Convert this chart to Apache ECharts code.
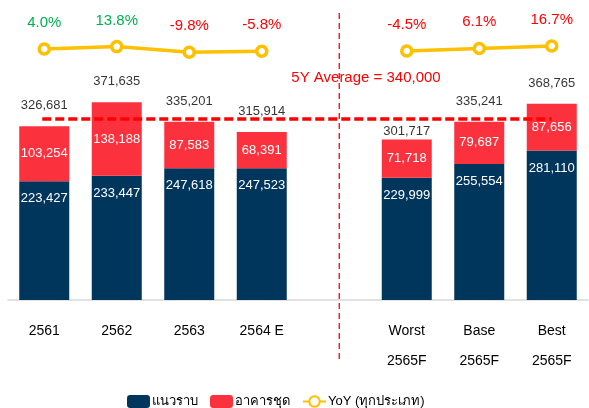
<!DOCTYPE html>
<html>
<head>
<meta charset="utf-8">
<script src="https://cdn.jsdelivr.net/npm/echarts@6/dist/echarts.min.js"></script>
<style>
  html, body { margin: 0; padding: 0; background: #fff; }
  #chart { width: 589px; height: 408px; }
</style>
</head>
<body>
<div id="chart"></div>
<script>
// 类目（第 5 个留空做分隔）
const categories = ['2561', '2562', '2563', '2564 E', '', 'Worst\n2565F', 'Base\n2565F', 'Best\n2565F'];
// แนวราบ
const lowRise = [223427, 233447, 247618, 247523, '-', 229999, 255554, 281110];
// อาคารชุด
const condo = [103254, 138188, 87583, 68391, '-', 71718, 79687, 87656];
// 合计
const totals = [326681, 371635, 335201, 315914, '-', 301717, 335241, 368765];
// YoY %
const yoy = [4.0, 13.8, -9.8, -5.8, '-', -4.5, 6.1, 16.7];
const yoyColors = ['#00B050', '#00B050', '#FF0000', '#FF0000', '#FF0000', '#FF0000', '#FF0000', '#FF0000'];
const avgValue = 340000;

const FONT = "'Liberation Sans', Arial, sans-serif";
const fmt = v => Number(v).toLocaleString('en-US');

const chart = echarts.init(document.getElementById('chart'));

// Worst 的合计标签贴近柱顶，避免压到均线
const totalData = totals.map((v, i) => i === 5 ? { value: v, label: { distance: 2 } } : v);
const yoyData = yoy.map((v, i) => v === '-' ? '-' : { value: v, label: { color: yoyColors[i] } });

const option = {
    animation: false,
    textStyle: { fontFamily: FONT },
    grid: { left: 8, right: 1, top: 34, bottom: 108 },
    legend: {
        data: ['แนวราบ', 'อาคารชุด', 'YoY (ทุกประเภท)'],
        left: 122,
        top: 390,
        itemWidth: 23,
        itemHeight: 13,
        itemGap: 12,
        textStyle: { fontSize: 13, color: '#000', padding: [0, 0, 0, -3] }
    },
    xAxis: {
        type: 'category',
        data: categories,
        axisLine: { lineStyle: { color: '#d9d9d9', width: 1.5 } },
        axisTick: { show: false },
        axisLabel: { color: '#000', fontSize: 14, margin: 16, lineHeight: 30, interval: 0 }
    },
    yAxis: [
        { type: 'value', min: 0, max: 500000, show: false, splitLine: { show: false } },
        { type: 'value', min: -1055, max: 67, show: false, splitLine: { show: false } }
    ],
    series: [
        {
            name: 'แนวราบ',
            type: 'bar',
            stack: 'total',
            barWidth: 50,
            data: lowRise,
            itemStyle: { color: '#00365C' },
            label: {
                show: true,
                position: 'insideTop',
                distance: 11,
                color: '#fff',
                fontSize: 13,
                formatter: p => fmt(p.value)
            }
        },
        {
            name: 'อาคารชุด',
            type: 'bar',
            stack: 'total',
            barWidth: 50,
            data: condo,
            itemStyle: { color: '#FB323E' },
            label: {
                show: true,
                position: 'inside',
                color: '#fff',
                fontSize: 13,
                formatter: p => fmt(p.value)
            }
        },
        {
            name: 'total',
            type: 'scatter',
            data: totalData,
            symbolSize: 0,
            silent: true,
            z: 5,
            label: {
                show: true,
                position: 'top',
                distance: 14,
                color: '#000',
                fontSize: 13,
                formatter: p => fmt(p.value)
            }
        },
        {
            name: 'YoY (ทุกประเภท)',
            type: 'line',
            yAxisIndex: 1,
            data: yoyData,
            connectNulls: false,
            symbol: 'circle',
            symbolSize: 10,
            lineStyle: { color: '#FFC000', width: 3.5 },
            itemStyle: { color: '#fff', borderColor: '#FFC000', borderWidth: 3.5 },
            label: {
                show: true,
                position: 'top',
                distance: 12,
                fontSize: 15,
                formatter: p => p.value.toFixed(1) + '%'
            }
        }
    ]
};

chart.setOption(option);

// 5Y 均线 + 竖向分隔虚线（按轴换算像素）
const [x0, yAvg] = chart.convertToPixel({ xAxisIndex: 0, yAxisIndex: 0 }, [0, avgValue]);
const x7 = chart.convertToPixel({ xAxisIndex: 0 }, 7);
const gapX = chart.convertToPixel({ xAxisIndex: 0 }, 4) + 5;
chart.setOption({
    graphic: [
        {
            type: 'line',
            shape: { x1: x0 - 2, y1: yAvg, x2: x7, y2: yAvg },
            style: { stroke: '#FF0000', lineWidth: 3.5, lineDash: [9, 4] },
            z: 10,
            silent: true
        },
        {
            type: 'text',
            x: (x0 + x7) / 2 + 68,
            y: yAvg - 41,
            style: {
                text: '5Y Average = ' + fmt(avgValue),
                fill: '#FF0000',
                font: '15px ' + FONT,
                align: 'center',
                verticalAlign: 'middle'
            },
            silent: true
        },
        {
            type: 'line',
            shape: { x1: gapX, y1: 13, x2: gapX, y2: 362 },
            style: { stroke: '#FF0000', lineWidth: 1.3, lineDash: [6, 4] },
            silent: true
        }
    ]
});
</script>
</body>
</html>
